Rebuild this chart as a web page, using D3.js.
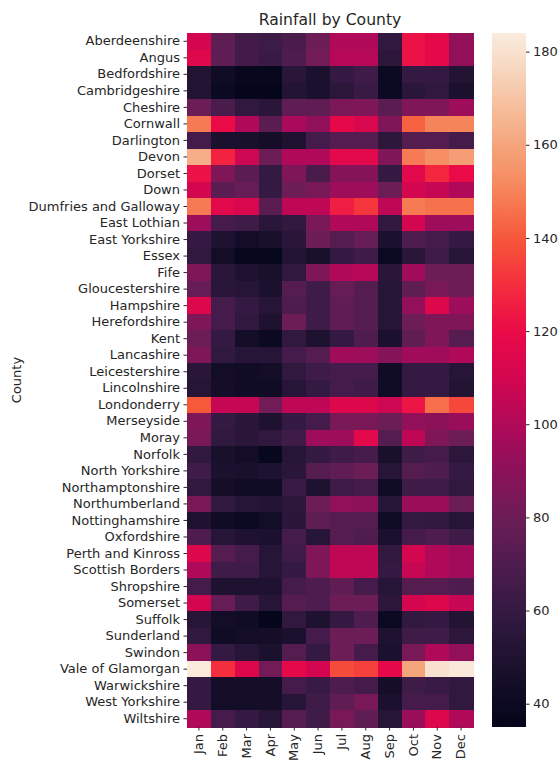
<!DOCTYPE html>
<html><head><meta charset="utf-8">
<script src="https://cdn.jsdelivr.net/npm/d3@7/dist/d3.min.js"></script>
<style>body{margin:0;background:#fff}svg{display:block}text{font-family:"DejaVu Sans",sans-serif;fill:#262626}</style>
</head><body><svg id="c" width="560" height="766"></svg>
<script>
const counties=["Aberdeenshire","Angus","Bedfordshire","Cambridgeshire","Cheshire","Cornwall","Darlington","Devon","Dorset","Down","Dumfries and Galloway","East Lothian","East Yorkshire","Essex","Fife","Gloucestershire","Hampshire","Herefordshire","Kent","Lancashire","Leicestershire","Lincolnshire","Londonderry","Merseyside","Moray","Norfolk","North Yorkshire","Northamptonshire","Northumberland","Nottinghamshire","Oxfordshire","Perth and Kinross","Scottish Borders","Shropshire","Somerset","Suffolk","Sunderland","Swindon","Vale of Glamorgan","Warwickshire","West Yorkshire","Wiltshire"];
const months=["Jan","Feb","Mar","Apr","May","Jun","Jul","Aug","Sep","Oct","Nov","Dec"];
const rainfall=[
[110,75,65,63,68,80,100,100,58,122,118,92],
[115,75,65,62,70,82,102,102,56,122,118,92],
[52,42,37,37,55,48,60,64,40,60,60,52],
[52,40,36,36,52,48,56,62,40,55,58,48],
[80,68,58,55,76,76,85,86,74,86,86,95],
[148,120,100,74,98,92,118,112,86,142,150,150],
[66,48,47,45,50,66,72,72,56,72,72,66],
[163,127,108,80,100,100,116,116,86,148,153,158],
[122,86,74,60,86,68,88,88,60,116,128,120],
[110,74,78,60,80,84,95,95,80,110,106,100],
[148,116,112,74,104,104,125,132,104,148,146,146],
[95,66,64,55,58,84,100,100,58,110,95,95],
[60,50,44,47,55,80,72,78,48,70,66,60],
[58,44,37,37,52,47,60,64,40,55,64,54],
[86,55,50,47,58,86,100,102,55,96,80,80],
[78,55,54,48,72,64,78,72,54,76,84,80],
[114,66,60,54,70,64,76,72,54,92,114,95],
[86,66,58,50,80,64,76,72,54,80,86,86],
[80,60,44,40,58,50,60,70,48,76,86,72],
[86,58,54,54,66,72,96,95,88,96,96,100],
[55,44,42,44,58,64,66,66,42,60,60,54],
[54,45,42,42,54,60,66,64,42,60,60,52],
[140,106,106,82,104,104,114,114,108,123,145,136],
[86,60,55,50,60,66,84,84,80,92,90,94],
[84,58,55,58,64,95,95,116,72,104,86,80],
[58,47,44,37,54,60,64,66,47,64,66,56],
[64,48,47,50,55,72,76,80,54,72,70,60],
[58,45,42,42,62,50,64,66,42,64,64,58],
[84,58,54,52,56,80,92,90,54,94,94,80],
[50,42,40,44,55,76,72,72,42,60,58,54],
[70,54,50,48,66,54,72,70,48,66,70,64],
[114,72,66,54,64,86,104,104,58,110,100,96],
[100,64,64,54,60,86,104,104,60,106,100,96],
[66,50,50,50,66,70,76,66,54,72,72,70],
[110,78,64,54,72,70,80,80,56,110,114,106],
[54,44,42,36,58,50,60,70,40,58,60,52],
[58,42,44,45,48,66,80,80,50,64,64,56],
[90,60,54,48,72,60,80,66,48,84,100,92],
[184,130,114,82,118,110,137,134,118,160,180,183],
[60,45,45,44,66,62,70,66,45,64,62,58],
[60,44,44,45,54,64,76,84,48,66,66,58],
[100,66,60,54,72,64,84,76,54,94,114,100]
];
const cbTicks=[40,60,80,100,120,140,160,180];
const vmin=35, vmax=184;
// colour stops sampled from the reference colour bar (value -> colour)
const cmapValues=[35,40,50,60,70,80,90,100,110,120,130,140,150,160,170,180,184];
const cmapColors=["#03051a","#0c0a22","#1f1230","#341a42","#4f1c4f","#6c1d56","#8b1159","#b0095a","#d4064f","#ea0a48","#f42e3d","#f6583a","#f6845a","#f5a57c","#f6c4a4","#f8e2cf","#faebdd"];

const svg=d3.select("#c");
const L=187,R=473,T=33,B=727;
const x=d3.scaleBand().domain(months).range([L,R]);
const y=d3.scaleBand().domain(counties).range([T,B]);
const color=d3.scaleLinear().domain(cmapValues).range(cmapColors).interpolate(d3.interpolateRgb).clamp(true);

const cells=[];
counties.forEach((c,i)=>months.forEach((m,j)=>cells.push({c,m,v:rainfall[i][j]})));
svg.append("g").selectAll("rect").data(cells).join("rect")
  .attr("x",d=>x(d.m)).attr("y",d=>y(d.c))
  .attr("width",x.bandwidth()+0.5).attr("height",y.bandwidth()+0.5)
  .attr("fill",d=>color(d.v)).attr("shape-rendering","crispEdges");

const ya=svg.append("g").attr("transform",`translate(${L},0)`).call(d3.axisLeft(y).tickSize(3.5).tickPadding(3.5));
ya.select(".domain").remove();
ya.selectAll("text").style("font-size","13px").attr("fill","#262626");
ya.selectAll("line").attr("stroke","#262626");

const xa=svg.append("g").attr("transform",`translate(0,${B})`).call(d3.axisBottom(x).tickSize(3.5).tickPadding(3.5));
xa.select(".domain").remove();
xa.selectAll("line").attr("stroke","#262626");
xa.selectAll("text").style("font-size","13px").attr("fill","#262626")
  .attr("transform","rotate(-90)").attr("text-anchor","end").attr("dy","0.32em").attr("x",-7).attr("y",0);

svg.append("text").attr("x",(L+R)/2).attr("y",25).attr("text-anchor","middle").style("font-size","15.6px").text("Rainfall by County");
svg.append("text").attr("transform",`translate(21,${(T+B)/2}) rotate(-90)`).attr("text-anchor","middle").style("font-size","13px").text("County");

// colorbar
const cbL=492,cbW=34;
const defs=svg.append("defs");
const grad=defs.append("linearGradient").attr("id","g").attr("x1",0).attr("y1",1).attr("x2",0).attr("y2",0);
d3.range(0,1.0001,0.02).forEach(t=>grad.append("stop").attr("offset",t).attr("stop-color",color(vmin+t*(vmax-vmin))));
svg.append("rect").attr("x",cbL).attr("y",T).attr("width",cbW).attr("height",B-T).attr("fill","url(#g)");
const cy=d3.scaleLinear().domain([vmin,vmax]).range([B,T]);
const ca=svg.append("g").attr("transform",`translate(${cbL+cbW},0)`).call(d3.axisRight(cy).tickValues(cbTicks).tickSize(3.5).tickPadding(3.5));
ca.select(".domain").remove();
ca.selectAll("text").style("font-size","13px").attr("fill","#262626");
ca.selectAll("line").attr("stroke","#262626");
</script></body></html>
